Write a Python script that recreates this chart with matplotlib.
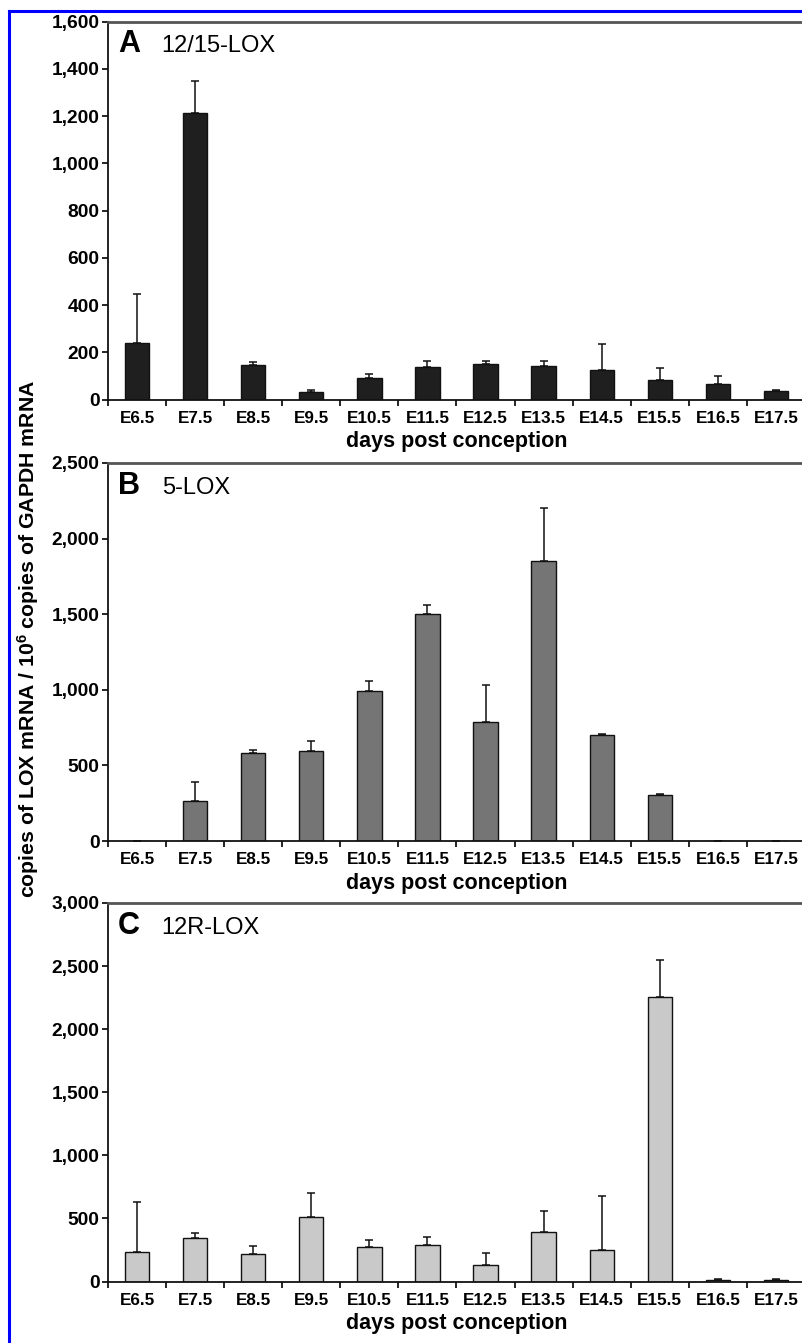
import numpy as np
import matplotlib
matplotlib.use('Agg')
from matplotlib import pyplot as plt
from matplotlib.ticker import FuncFormatter, FixedLocator
from matplotlib.lines import Line2D

plt.rcParams['font.family'] = ['Liberation Sans', 'DejaVu Sans']
plt.rcParams['mathtext.fontset'] = 'custom'
plt.rcParams['mathtext.rm'] = 'Liberation Sans:bold'
plt.rcParams['mathtext.bf'] = 'Liberation Sans:bold'
plt.rcParams['mathtext.default'] = 'bf'

days = ['E6.5', 'E7.5', 'E8.5', 'E9.5', 'E10.5', 'E11.5',
        'E12.5', 'E13.5', 'E14.5', 'E15.5', 'E16.5', 'E17.5']

# 12/15-LOX
lox1215 = [238, 1215, 146, 30, 91, 139, 149, 142, 125, 81, 64, 36]
lox1215_err = [207, 135, 13, 9, 15, 22, 15, 19, 108, 51, 36, 5]
# 5-LOX
lox5 = [0, 262, 582, 592, 992, 1500, 785, 1850, 700, 305, 0, 0]
lox5_err = [0, 128, 23, 68, 68, 60, 250, 355, 5, 4, 0, 0]
# 12R-LOX
lox12r = [230, 343, 217, 513, 270, 293, 131, 395, 249, 2255, 10, 8]
lox12r_err = [400, 44, 63, 192, 60, 58, 91, 163, 430, 292, 12, 8]

panels = [
    ('A', '12/15-LOX', lox1215, lox1215_err, 1600, 200, '#1f1f1f'),
    ('B', '5-LOX', lox5, lox5_err, 2500, 500, '#757575'),
    ('C', '12R-LOX', lox12r, lox12r_err, 3000, 500, '#c9c9c9'),
]

W, H = 803, 1343
fig = plt.figure(figsize=(W / 100, H / 100), dpi=100)

# axes boxes in pixels: (left, top, right, bottom)
boxes = [(108, 21.7, 805, 399.5), (108, 463, 805, 841), (108, 903, 805, 1281.5)]

x = np.arange(len(days))
for (letter, name, vals, errs, ymax, step, col), (l, t, r, b) in zip(panels, boxes):
    ax = fig.add_axes([l / W, 1 - b / H, (r - l) / W, (b - t) / H])
    errs = np.array(errs)
    ax.bar(x, vals, width=0.42, color=col, edgecolor='#111111', linewidth=1.0, zorder=2)
    ax.errorbar(x, vals, yerr=[np.zeros_like(errs), errs], fmt='none',
                ecolor='#111111', elinewidth=1.1, capsize=2.8, capthick=1.1, zorder=1)
    ax.set_xlim(-0.5, len(days) - 0.5)
    ax.set_ylim(0, ymax)
    ax.set_yticks(np.arange(0, ymax + 1, step))
    ax.yaxis.set_major_formatter(FuncFormatter(lambda v, p: f'{v:,.0f}'))
    ax.set_xticks(x)
    ax.set_xticklabels(days)
    ax.xaxis.set_minor_locator(FixedLocator(np.arange(-0.5, len(days), 1.0)))
    ax.tick_params(axis='x', which='major', length=0, pad=8)
    ax.tick_params(axis='x', which='minor', length=4, width=1.2, direction='out')
    ax.tick_params(axis='y', length=4, width=1.2, direction='out', pad=2)
    for lab in ax.get_xticklabels():
        lab.set_fontweight('bold')
        lab.set_fontsize(12.3)
    for lab in ax.get_yticklabels():
        lab.set_fontweight('bold')
        lab.set_fontsize(13.8)
    ax.set_xlabel('days post conception', fontsize=15.5, fontweight='bold', labelpad=4)
    for s in ['left', 'bottom']:
        ax.spines[s].set_linewidth(1.3)
        ax.spines[s].set_color('#111111')
    ax.spines['top'].set_linewidth(2.0)
    ax.spines['top'].set_color('#555555')
    ax.spines['right'].set_linewidth(2.0)
    ax.spines['right'].set_color('#555555')
    ax.text(0.014, 0.919, letter, transform=ax.transAxes, fontsize=22,
            fontweight='bold', va='baseline', ha='left')
    ax.text(0.077, 0.919, name, transform=ax.transAxes, fontsize=17,
            va='baseline', ha='left')

fig.text(28 / W, 1 - 639 / H, 'copies of LOX mRNA / 10$^{6}$ copies of GAPDH mRNA',
         rotation=90, fontsize=15.3, fontweight='bold', ha='center', va='center')

# blue frame on the top and left edges
fig.add_artist(Line2D([9.5 / W, 1.0], [1 - 11 / H, 1 - 11 / H], color='#0000ff',
                      linewidth=2.2, transform=fig.transFigure))
fig.add_artist(Line2D([9.5 / W, 9.5 / W], [0, 1 - 11 / H], color='#0000ff',
                      linewidth=2.2, transform=fig.transFigure))

fig.savefig('out.png', dpi=100)
